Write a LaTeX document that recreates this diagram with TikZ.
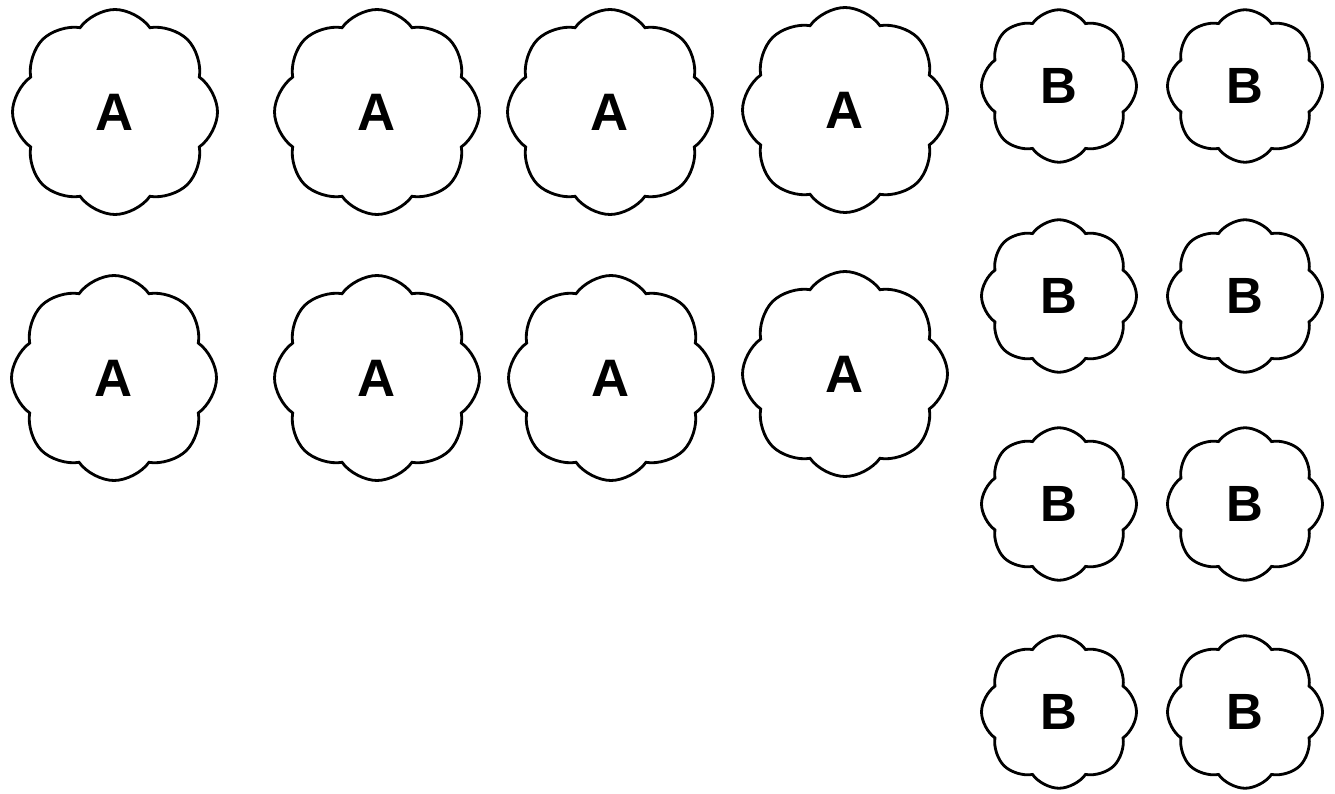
\documentclass[tikz,border=0pt]{standalone}
\usepackage{fontspec}
\setmainfont{Liberation Sans}
\usetikzlibrary{shapes.symbols}
\tikzset{
  cloudA/.style={draw, cloud, cloud puffs=8, cloud puff arc=110, aspect=1, line width=1.6pt,
    minimum width=4.1cm, minimum height=4.1cm, inner sep=0pt, font=\fontsize{30}{32}\selectfont\bfseries},
  cloudB/.style={draw, cloud, cloud puffs=8, cloud puff arc=110, aspect=1, line width=1.6pt,
    minimum width=3.1cm, minimum height=3.05cm, inner sep=0pt, font=\fontsize{29}{31}\selectfont\bfseries},
}

\begin{document}
\begin{tikzpicture}[x=1cm,y=1cm]
  \useasboundingbox (0,0) rectangle (26.7,-15.88);

  % first row of A clouds
  \node[cloudA] (a1) at (2.30,-2.24) {A};
  \node[cloudA] (a2) at (7.54,-2.24) {A};
  \node[cloudA] (a3) at (12.20,-2.24) {A};
  \node[cloudA] (a4) at (16.90,-2.20) {A};

  % second row of A clouds
  \node[cloudA] (a5) at (2.28,-7.56) {A};
  \node[cloudA] (a6) at (7.54,-7.56) {A};
  \node[cloudA] (a7) at (12.22,-7.56) {A};
  \node[cloudA] (a8) at (16.90,-7.48) {A};

  % B clouds, two columns
  \node[cloudB] (b1) at (21.18,-1.72) {B};
  \node[cloudB] (b2) at (24.90,-1.72) {B};
  \node[cloudB] (b3) at (21.18,-5.92) {B};
  \node[cloudB] (b4) at (24.90,-5.92) {B};
  \node[cloudB] (b5) at (21.18,-10.08) {B};
  \node[cloudB] (b6) at (24.90,-10.08) {B};
  \node[cloudB] (b7) at (21.18,-14.24) {B};
  \node[cloudB] (b8) at (24.90,-14.24) {B};
\end{tikzpicture}
\end{document}
